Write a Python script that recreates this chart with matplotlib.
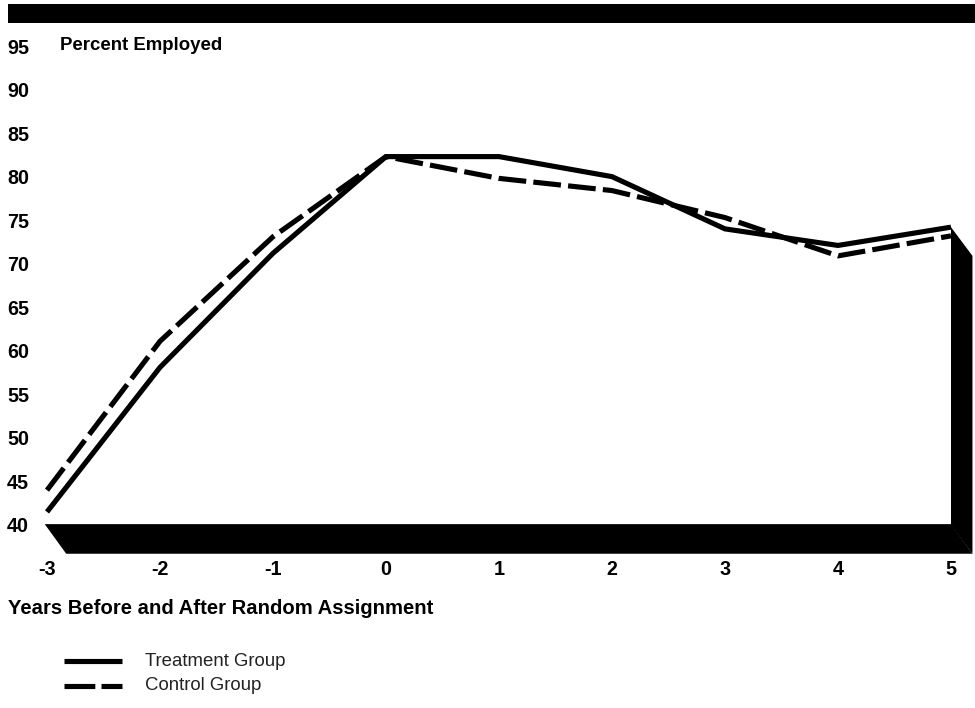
import numpy as np
import matplotlib
matplotlib.use('Agg')
import matplotlib.pyplot as plt
from matplotlib.lines import Line2D
from matplotlib.patches import Polygon, Rectangle

# Data
years = [-3, -2, -1, 0, 1, 2, 3, 4, 5]
treatment = [41.5, 58.1, 71.2, 82.3, 82.3, 80.0, 74.0, 72.1, 74.2]
control = [44.0, 61.1, 73.1, 82.3, 79.8, 78.4, 75.3, 70.9, 73.2]
yticks = [40, 45, 50, 55, 60, 65, 70, 75, 80, 85, 90, 95]

plt.rcParams['font.family'] = ['Liberation Sans', 'DejaVu Sans']

fig = plt.figure(figsize=(9.75, 7.08), dpi=100)
W, H = 975, 708
ax = fig.add_axes([47/W, 1 - 525/H, 904/W, 479/H])
ax.set_xlim(-3, 5)
ax.set_ylim(40, 95)

lw = 3.7
ax.plot(years, treatment, color='black', lw=lw, solid_joinstyle='miter',
        solid_capstyle='butt', clip_on=False, zorder=3)
ax.plot(years, control, color='black', lw=lw, dashes=(5.4, 1.4),
        dash_capstyle='butt', clip_on=False, zorder=4)

# 3D-style floor and right wall
ddx, ddy = 0.19, 3.3
floor = Polygon([(-3.02, 40.1), (5, 40.1), (5 + ddx, 40 - ddy), (-3 + ddx - 0.02, 40 - ddy)],
                closed=True, facecolor='black', edgecolor='none', clip_on=False, zorder=2)
wall = Polygon([(5, treatment[-1]), (5 + ddx, treatment[-1] - ddy),
                (5 + ddx, 40 - ddy), (5, 40)],
               closed=True, facecolor='black', edgecolor='none', clip_on=False, zorder=2)
ax.add_patch(floor)
ax.add_patch(wall)

for s in ax.spines.values():
    s.set_visible(False)
ax.set_xticks(years)
ax.set_xticklabels([str(y) for y in years], fontsize=14.2, fontweight='bold')
ax.set_yticks(yticks)
ax.set_yticklabels([str(y) for y in yticks], fontsize=14.2, fontweight='bold')
ax.tick_params(axis='both', length=0)
ax.tick_params(axis='x', pad=25)
ax.tick_params(axis='y', pad=13)

ax.text(13/904, 1.0, 'Percent Employed', transform=ax.transAxes,
        fontsize=13.4, fontweight='bold', ha='left', va='center')

# top black bar
fig.add_artist(Rectangle((8/W, 1 - 22.5/H), 1, 18.5/H, transform=fig.transFigure,
                         facecolor='black', edgecolor='none'))

fig.text(8/W, 1 - 608/H, 'Years Before and After Random Assignment',
         fontsize=14.6, fontweight='bold', ha='left', va='center')

# legend
leg = [('Treatment Group', None, 661), ('Control Group', (6.0, 1.2), 686)]
for label, dash, ypx in leg:
    ln = Line2D([64/W, 122/W], [1 - ypx/H, 1 - ypx/H], transform=fig.transFigure,
                color='black', lw=lw, solid_capstyle='butt', dash_capstyle='butt')
    if dash:
        ln.set_dashes(dash)
    fig.add_artist(ln)
    fig.text(145/W, 1 - ypx/H, label, fontsize=13.4, color='#222222',
             ha='left', va='center')

fig.savefig('out.png', dpi=100)
